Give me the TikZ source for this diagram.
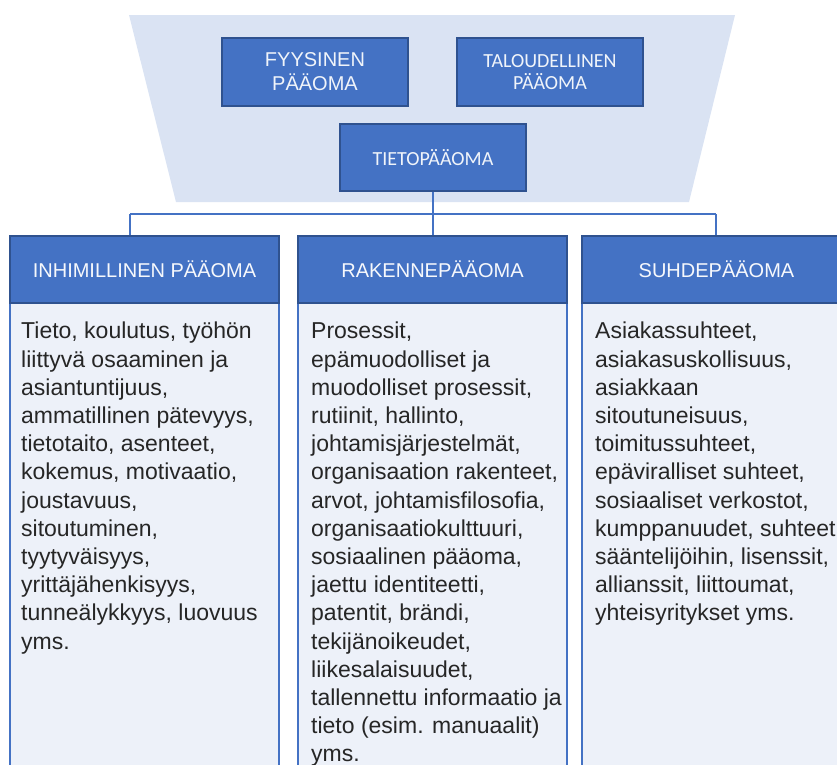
\documentclass[tikz,border=0pt]{standalone}
\usepackage{fontspec}
\setmainfont{Liberation Sans}
\newfontfamily\carl{Carlito}
\definecolor{hdr}{HTML}{4472C4}
\definecolor{hdrline}{HTML}{2F528F}
\definecolor{trap}{HTML}{DAE3F3}
\definecolor{bodyfill}{HTML}{EDF1F9}
\definecolor{txt}{HTML}{262626}
\tikzset{
  topbox/.style={draw=hdrline, fill=hdr, line width=1.2pt, inner sep=0pt,
    minimum width=186, minimum height=68, text=white!92!hdr, align=center},
  headbox/.style={draw=hdrline, fill=hdr, line width=1.2pt, inner sep=0pt,
    minimum width=269, minimum height=67, text=white!95!hdr,
    font=\fontsize{20}{24}\selectfont},
  bodybox/.style={draw=hdr, fill=bodyfill, line width=1.5pt, inner sep=0pt,
    minimum width=269, minimum height=497},
  bodytext/.style={anchor=north west, inner sep=0pt, align=left, text=txt,
    font=\fontsize{23}{28.2}\selectfont},
  conn/.style={draw=hdr, line width=1.8pt}
}
\begin{document}
\begin{tikzpicture}[x=1pt,y=-1pt]
\useasboundingbox (0,0) rectangle (837,764);
\clip (0,0) rectangle (837,764);
\fill[trap] (129,15) -- (735,15) -- (689,202) -- (176,202) -- cycle;

\node[topbox, font=\fontsize{20}{24}\selectfont] (fyy) at (315,72) {FYYSINEN\\PÄÄOMA};
\node[topbox, font=\carl\fontsize{20}{22}\selectfont] (tal) at (550,72) {TALOUDELLINEN\\PÄÄOMA};
\node[topbox, minimum height=67, font=\carl\fontsize{20}{22}\selectfont] (tieto) at (433,157.5) {TIETOPÄÄOMA};

\node[bodybox] (inhb) at (144.5,551.5) {};
\node[bodybox] (rakb) at (432.5,551.5) {};
\node[bodybox] (suhb) at (716.5,551.5) {};

\node[headbox] (inh) at (144.5,269.5) {INHIMILLINEN PÄÄOMA};
\node[headbox] (rak) at (432.5,269.5) {RAKENNEPÄÄOMA};
\node[headbox] (suh) at (716.5,269.5) {SUHDEPÄÄOMA};

\coordinate (bus) at (433,214);
\coordinate (dl) at (130,214);
\coordinate (dr) at (716,214);
\draw[conn] (tieto.south) -- (tieto.south |- bus);
\draw[conn] (dl) -- (dr);
\draw[conn] (dl) -- (dl |- inh.north);
\draw[conn] (tieto.south |- bus) -- (tieto.south |- rak.north);
\draw[conn] (dr) -- (dr |- suh.north);

\node[bodytext] (inht) at (21,322) {Tieto, koulutus, työhön\\liittyvä osaaminen ja\\asiantuntijuus,\\ammatillinen pätevyys,\\tietotaito, asenteet,\\kokemus, motivaatio,\\joustavuus,\\sitoutuminen,\\tyytyväisyys,\\yrittäjähenkisyys,\\tunneälykkyys, luovuus\\yms.};
\node[bodytext] (rakt) at (311,322) {Prosessit,\\epämuodolliset ja\\muodolliset prosessit,\\rutiinit, hallinto,\\johtamisjärjestelmät,\\organisaation rakenteet,\\arvot, johtamisfilosofia,\\organisaatiokulttuuri,\\sosiaalinen pääoma,\\jaettu identiteetti,\\patentit, brändi,\\tekijänoikeudet,\\liikesalaisuudet,\\tallennettu informaatio ja\\tieto (esim. manuaalit)\\yms.};
\node[bodytext] (suht) at (595,322) {Asiakassuhteet,\\asiakasuskollisuus,\\asiakkaan\\sitoutuneisuus,\\toimitussuhteet,\\epäviralliset suhteet,\\sosiaaliset verkostot,\\kumppanuudet, suhteet\\sääntelijöihin, lisenssit,\\allianssit, liittoumat,\\yhteisyritykset yms.};
\end{tikzpicture}
\end{document}
